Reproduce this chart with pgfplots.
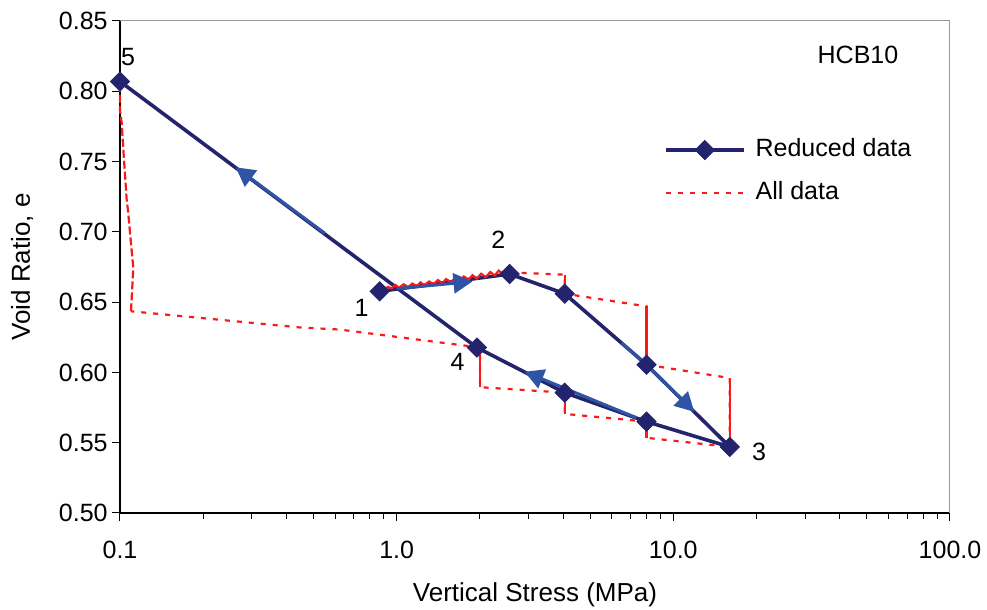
\documentclass[border=0pt]{standalone}
\usepackage{fontspec}
\setmainfont{Liberation Sans}
\usepackage{pgfplots}
\pgfplotsset{compat=1.18}
\usetikzlibrary{arrows.meta}

\definecolor{navyline}{RGB}{36,36,110}
\definecolor{arrowblue}{RGB}{47,84,165}
\definecolor{datared}{RGB}{250,25,25}

\begin{document}
\begin{tikzpicture}
\useasboundingbox (-60pt,-48.5pt) rectangle (433.5pt,256.5pt);
\begin{axis}[
  at={(0pt,0pt)}, anchor=south west,
  scale only axis, width=415pt, height=246pt,
  font=\fontsize{12.5}{15}\selectfont,
  xmode=log, xmin=0.1, xmax=100, ymin=0.5, ymax=0.85,
  clip=false,
  axis lines*=left,
  axis line style={-, black, line width=0.6pt},
  xtick={0.1,1,10,100}, xticklabels={0.1,1.0,10.0,100.0},
  minor xtick={0.2,0.3,0.4,0.5,0.6,0.7,0.8,0.9,2,3,4,5,6,7,8,9,20,30,40,50,60,70,80,90},
  ytick={0.50,0.55,0.60,0.65,0.70,0.75,0.80,0.85},
  yticklabels={0.50,0.55,0.60,0.65,0.70,0.75,0.80,0.85},
  tick align=outside,
  major tick length=4pt, minor tick length=3pt,
  every tick/.style={black, line width=0.5pt},
  xticklabel style={anchor=north, inner sep=0pt, yshift=-10pt},
  yticklabel style={anchor=east, inner sep=0pt, xshift=-2pt},
  xlabel={Vertical Stress (MPa)},
  ylabel={Void Ratio, e},
  xlabel style={at={(axis description cs:0.5,-0.1667)}, anchor=center, inner sep=0pt,
    font=\fontsize{13}{15}\selectfont},
  ylabel style={at={(axis description cs:-0.118,0.5)}, anchor=center, inner sep=0pt,
    font=\fontsize{13}{15}\selectfont},
  legend style={draw=none, fill=none, at={(0.655,0.694)}, anchor=west,
    inner sep=0pt, row sep=8pt,
    nodes={text height=9pt, text depth=2.5pt, inner sep=1pt}},
  legend cell align=left,
  legend image code/.code={%
    \draw[mark repeat=2,mark phase=2,#1] plot coordinates {(0pt,0pt) (19.5pt,0pt) (39pt,0pt)};
    \path (43pt,0pt);},
]
% frame on the top and right
\draw[gray!80, line width=0.5pt] (rel axis cs:0,1) -- (rel axis cs:1,1) -- (rel axis cs:1,0);

% legend entries
\addlegendimage{navyline, line width=1.8pt, mark=square*, mark size=3.4pt,
  mark options={rotate=45, fill=navyline, draw=navyline, line width=0.4pt}}
\addlegendentry{Reduced data}
\addlegendimage{datared, line width=1.1pt, dash pattern=on 2.5pt off 3.5pt}
\addlegendentry{All data}

% reduced data: connecting line
\addplot[navyline, line width=1.8pt, forget plot] coordinates {
  (0.868,0.6577) (2.56,0.670) (4.05,0.656) (8.0,0.6055) (16.0,0.547)
  (8.0,0.565) (4.05,0.5856) (1.95,0.6177) (0.1,0.807)
};

% all data: noisy loading 1 -> 2
\addplot[datared, line width=1.1pt, forget plot] coordinates {
  (0.90,0.6595) (0.93,0.6608) (0.96,0.6598) (0.99,0.6622) (1.02,0.6602)
  (1.06,0.6627) (1.10,0.6607) (1.14,0.6632) (1.18,0.6614) (1.22,0.6640)
  (1.26,0.6620) (1.31,0.6647) (1.36,0.6627) (1.41,0.6657) (1.46,0.6634)
  (1.51,0.6664) (1.57,0.6642) (1.63,0.6672) (1.69,0.6650) (1.75,0.6682)
  (1.82,0.6660) (1.88,0.6692) (1.95,0.6667) (2.02,0.6702) (2.10,0.6677)
  (2.18,0.6714) (2.26,0.6690) (2.34,0.6724) (2.42,0.6702) (2.50,0.6728)
  (2.56,0.6712)
};
% all data: load steps, creep and unloading
\addplot[datared, line width=1.1pt, dash pattern=on 2.5pt off 3.5pt, forget plot] coordinates {
  (2.56,0.6712) (4.05,0.6695) (4.05,0.656) (8.0,0.647) (8.0,0.6055)
  (16.0,0.596) (16.0,0.547) (8.0,0.5535) (8.0,0.565) (4.05,0.5705)
  (4.05,0.5856) (2.0,0.5895) (2.0,0.6177) (0.622,0.6305) (0.447,0.632)
  (0.1096,0.6435)
};
\addplot[datared, line width=1.1pt, dash pattern=on 4pt off 1.5pt, forget plot] coordinates {
  (0.1096,0.6435) (0.1117,0.6744) (0.1087,0.6994) (0.1071,0.7136)
  (0.1057,0.7231) (0.1028,0.7588) (0.1014,0.7778) (0.1,0.786)
  (0.1,0.7992) (0.1,0.807)
};
% creep at constant load
\addplot[datared, line width=1.1pt, forget plot] coordinates {(4.05,0.6695) (4.05,0.656)};
\addplot[datared, line width=1.1pt, forget plot] coordinates {(8.0,0.647) (8.0,0.6055)};
\addplot[datared, line width=1.1pt, forget plot] coordinates {(16.0,0.596) (16.0,0.547)};
\addplot[datared, line width=1.1pt, forget plot] coordinates {(8.0,0.5535) (8.0,0.565)};
\addplot[datared, line width=1.1pt, forget plot] coordinates {(4.05,0.5705) (4.05,0.5856)};
\addplot[datared, line width=1.1pt, forget plot] coordinates {(2.0,0.5895) (2.0,0.6177)};

% direction of the stress path
\addplot[arrowblue, line width=1.5pt, -{Triangle[length=9.5pt,width=10pt]}, forget plot]
  coordinates {(0.55,0.699) (0.262,0.7459)};
\addplot[arrowblue, line width=1.5pt, -{Triangle[length=9.5pt,width=10pt]}, forget plot]
  coordinates {(1.0,0.6595) (1.88,0.6647)};
\addplot[arrowblue, line width=1.5pt, -{Triangle[length=9.5pt,width=10pt]}, forget plot]
  coordinates {(6.5,0.621) (8.0,0.6055) (11.9,0.572)};
\addplot[arrowblue, line width=1.5pt, -{Triangle[length=9.5pt,width=10pt]}, forget plot]
  coordinates {(7.35,0.5678) (2.9,0.6005)};

% reduced data: markers
\addplot[only marks, mark=square*, mark size=3.4pt,
  mark options={rotate=45, fill=navyline, draw=navyline, line width=0.4pt}, forget plot] coordinates {
  (0.868,0.6577) (2.56,0.670) (4.05,0.656) (8.0,0.6055) (16.0,0.547)
  (8.0,0.565) (4.05,0.5856) (1.95,0.6177) (0.1,0.807)
};

% stage numbers and sample name
\node at (axis cs:0.1069,0.8243) {5};
\node at (axis cs:0.747,0.646) {1};
\node at (axis cs:2.33,0.6946) {2};
\node at (axis cs:20.4,0.5435) {3};
\node at (axis cs:1.66,0.6077) {4};
\node at (axis cs:46.5,0.8258) {HCB10};
\end{axis}
\end{tikzpicture}
\end{document}
